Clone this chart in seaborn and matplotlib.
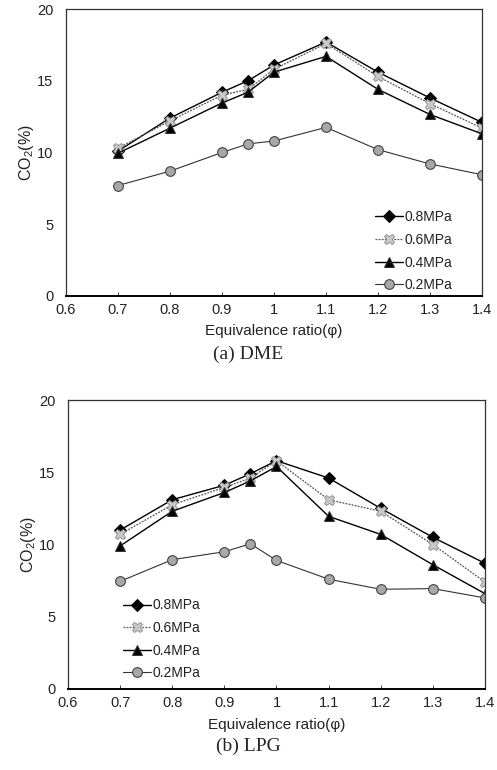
import numpy as np
import pandas as pd
import matplotlib
matplotlib.use("Agg")
import matplotlib.pyplot as plt
import seaborn as sns

# Equivalence ratio sample points
phi = [0.7, 0.8, 0.9, 0.95, 1.0, 1.1, 1.2, 1.3, 1.4]
pressures = ["0.8MPa", "0.6MPa", "0.4MPa", "0.2MPa"]

# CO2 (%) for DME
dme_08 = [10.1, 12.4, 14.2, 15.0, 16.1, 17.7, 15.6, 13.8, 12.1]
dme_06 = [10.3, 12.2, 14.0, 14.4, 15.8, 17.6, 15.3, 13.4, 11.7]
dme_04 = [9.95, 11.7, 13.45, 14.2, 15.6, 16.7, 14.4, 12.65, 11.3]
dme_02 = [7.7, 8.7, 10.0, 10.6, 10.8, 11.75, 10.2, 9.2, 8.45]

# CO2 (%) for LPG
lpg_08 = [11.0, 13.1, 14.1, 14.9, 15.8, 14.6, 12.5, 10.5, 8.7]
lpg_06 = [10.7, 12.75, 13.95, 14.6, 15.8, 13.1, 12.3, 10.0, 7.4]
lpg_04 = [9.9, 12.3, 13.6, 14.4, 15.4, 11.95, 10.7, 8.6, 6.6]
lpg_02 = [7.45, 8.95, 9.5, 10.05, 8.9, 7.6, 6.9, 6.95, 6.3]

x_ticks = [0.6, 0.7, 0.8, 0.9, 1.0, 1.1, 1.2, 1.3, 1.4]
x_ticklabels = ["0.6", "0.7", "0.8", "0.9", "1", "1.1", "1.2", "1.3", "1.4"]
y_ticks = [0, 5, 10, 15, 20]

sns.set_theme(style="white")
plt.rcParams["font.family"] = ["Liberation Sans", "DejaVu Sans"]
plt.rcParams["mathtext.default"] = "regular"

styles = {
    "0.8MPa": dict(marker="D", markersize=6, markerfacecolor="black",
                   markeredgecolor="black", color="black", linestyle="-", lw=1.0),
    "0.6MPa": dict(marker="X", markersize=7.5, markerfacecolor="#c8c8c8",
                   markeredgecolor="#8a8a8a", markeredgewidth=0.6, color="#555555",
                   linestyle=(0, (1.5, 1)), lw=0.9),
    "0.4MPa": dict(marker="^", markersize=7, markerfacecolor="black",
                   markeredgecolor="#333333", color="black", linestyle="-", lw=1.0),
    "0.2MPa": dict(marker="o", markersize=7, markerfacecolor="#a8a8a8",
                   markeredgecolor="#444444", markeredgewidth=0.8, color="#333333",
                   linestyle="-", lw=0.8),
}


def panel(ax, series, legend_anchor, caption, cap_y, xlabel_pad):
    df = pd.DataFrame({
        "phi": phi * len(pressures),
        "co2": np.concatenate(series),
        "p": np.repeat(pressures, len(phi)),
    })
    for p in pressures:
        sub = df[df["p"] == p]
        sns.lineplot(data=sub, x="phi", y="co2", ax=ax, label=p, **styles[p])
    ax.set_xlim(0.6, 1.4)
    ax.set_ylim(0, 20)
    ax.set_xticks(x_ticks)
    ax.set_xticklabels(x_ticklabels)
    ax.set_yticks(y_ticks)
    ax.tick_params(axis="x", direction="in", length=3, width=0.6, pad=5,
                   labelsize=10.5, bottom=True, colors="#222222")
    ax.tick_params(axis="y", length=0, pad=9, labelsize=10.5, colors="#222222")
    for s in ax.spines.values():
        s.set_color("#333333")
        s.set_linewidth(0.9)
    ax.spines["bottom"].set_linewidth(1.4)
    ax.spines["bottom"].set_color("black")
    ax.set_xlabel("Equivalence ratio(φ)", fontsize=11, color="#222222",
                  labelpad=xlabel_pad)
    ax.set_ylabel("CO$_2$(%)", fontsize=11.5, color="#222222")
    ax.yaxis.set_label_coords(-0.072, 0.5)
    ax.grid(False)
    leg = ax.legend(loc="lower left", bbox_to_anchor=legend_anchor, frameon=False,
                    fontsize=10, handlelength=2.0, handletextpad=0.1,
                    labelspacing=0.62, borderaxespad=0, borderpad=0)
    for t in leg.get_texts():
        t.set_color("#222222")
    ax.figure.text(0.5, cap_y, caption, ha="center", va="center",
                   fontsize=14, family=["Liberation Serif", "DejaVu Serif"])


fig = plt.figure(figsize=(4.97, 7.70), dpi=100)
ax1 = fig.add_axes([0.1328, 0.6156, 0.837, 0.3727])
ax2 = fig.add_axes([0.1368, 0.1052, 0.839, 0.3753])

panel(ax1, [dme_08, dme_06, dme_04, dme_02], (0.743, 0.0135), "(a) DME",
      1 - 354 / 770, 5)
panel(ax2, [lpg_08, lpg_06, lpg_04, lpg_02], (0.132, 0.030), "(b) LPG",
      1 - 746 / 770, 6)

fig.savefig("out.png", dpi=100, facecolor="white")
